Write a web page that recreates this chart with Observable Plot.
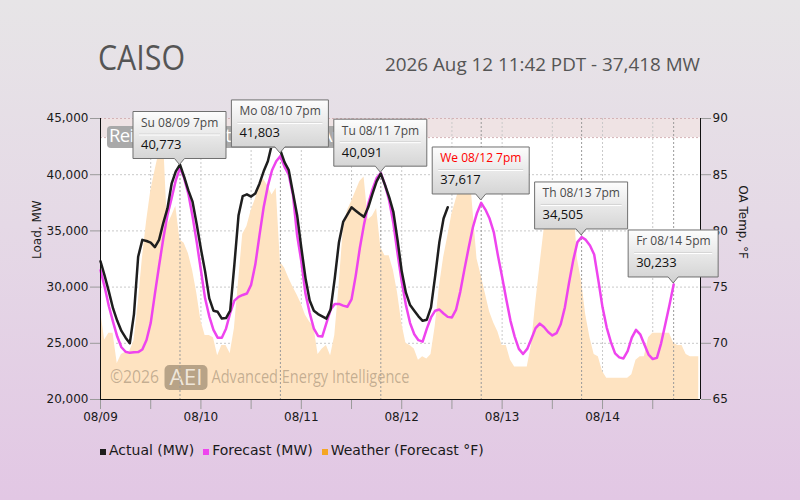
<!DOCTYPE html>
<html>
<head>
<meta charset="utf-8">
<script src="https://cdn.jsdelivr.net/npm/d3@7"></script>
<script src="https://cdn.jsdelivr.net/npm/@observablehq/plot@0.6"></script>
<style>
html,body{margin:0;padding:0;}
body{width:800px;height:500px;overflow:hidden;position:relative;
  background:linear-gradient(to bottom,#e7e5e7 0%,#e5d9e6 45%,#e2c7e4 100%);
  font-family:"DejaVu Sans",sans-serif;}
#header{position:absolute;left:0;top:0;}
#chart{position:absolute;left:0;top:90px;}
#legend{position:absolute;left:100px;top:442px;display:flex;align-items:baseline;font-size:14px;color:#1a1a1a;white-space:nowrap;}
.item{display:flex;align-items:baseline;margin-right:9px;}
.sw{display:inline-block;width:6px;height:6px;margin-right:3px;}
</style>
</head>
<body>
<svg id="header" width="800" height="90">
  <text x="98" y="70" font-family="Open Sans" font-size="34" fill="#555" textLength="87" lengthAdjust="spacingAndGlyphs">CAISO</text>
  <text x="385" y="71" font-family="Open Sans" font-size="19" fill="#555" textLength="315" lengthAdjust="spacingAndGlyphs">2026 Aug 12 11:42 PDT - 37,418 MW</text>
</svg>
<div id="chart"></div>
<div id="legend">
  <div class="item"><span class="sw" style="background:#1e1e1e"></span>Actual (MW)</div>
  <div class="item"><span class="sw" style="background:#ee44ee"></span>Forecast (MW)</div>
  <div class="item"><span class="sw" style="background:#f5a623"></span>Weather (Forecast °F)</div>
</div>
<script>
// ---------- data (hourly, starting 2026-08-09 00:00) ----------
const startTime = Date.UTC(2026, 7, 9, 0, 0);
const endTime = Date.UTC(2026, 7, 14, 23, 25);

const actualMW = [
  32300,31000,29600,28100,27000,26100,25500,25000,27600,32700,
  34200,34100,33950,33550,34200,35700,37000,39200,40300,40900,
  39800,38600,37600,35600,33400,31400,29000,27900,27800,27200,
  27250,27900,32000,36400,38100,38250,38050,38330,39200,40300,
  41200,42750,42700,42150,41100,40400,38400,36400,33500,30800,
  28800,27900,27600,27400,27200,28000,30800,34000,35800,36450,
  37100,36800,36500,36250,37100,38300,39400,40100,39100,38000,
  36700,34200,31400,29500,28400,27900,27400,27000,27100,28200,
  31000,34000,36100,37100
];

const forecastMW = [
  31500,30000,28300,26900,25600,24650,24250,24150,24200,24220,
  24450,25300,26800,29400,31900,34300,36400,37900,39500,40600,
  39700,38300,36300,34000,31500,29000,27400,26200,25500,25500,
  26300,27700,28800,29130,29300,29430,30200,32000,34600,37100,
  39000,40400,41200,41650,40700,40000,38200,34600,32300,29400,
  27700,26300,25650,25600,26800,28000,28500,28500,28350,28250,
  28900,31000,33500,35600,37400,38700,39700,40150,39100,37700,
  35700,33000,30500,28400,26800,25800,25280,25150,26300,27300,
  27900,28000,27650,27350,27300,28000,29600,31600,33500,35300,
  36600,37500,36900,36100,34900,32800,30900,28900,27000,25600,
  24500,24050,24500,25400,26350,26750,26450,26000,25700,25900,
  26700,28200,30400,32400,34000,34450,34200,33700,32900,30600,
  28200,26400,25100,24100,23750,23650,24300,25500,26200,25800,
  24900,24000,23600,23700,25000,26700,28400,30233
];

const weatherF = [
  72.9,70.3,70.9,70.9,68.2,69.0,69.2,69.3,70.2,73.5,
  77.5,80.8,83.5,85.3,87.0,88.6,80.5,81.3,82.2,79.2,
  78.9,78.0,76.5,74.5,72.0,70.7,70.7,70.5,68.9,69.8,
  69.8,69.1,71.3,75.5,79.7,80.4,81.8,82.8,84.2,84.6,
  84.0,83.2,83.8,77.2,76.7,75.8,75.0,74.3,73.5,72.5,
  71.9,71.5,69.0,69.5,69.8,68.9,70.7,75.0,80.0,81.8,
  82.6,83.5,84.4,84.8,81.0,81.3,82.0,78.5,77.8,77.8,
  76.5,74.5,71.8,70.0,69.8,69.5,68.5,68.8,68.6,69.0,
  71.5,75.0,77.6,79.5,81.5,82.8,84.0,85.5,86.5,82.0,
  77.5,76.0,74.4,72.8,71.8,71.0,69.8,69.8,68.5,67.9,
  67.9,67.9,67.9,69.8,73.5,76.8,80.0,83.0,83.5,83.5,
  83.5,83.5,83.5,83.0,77.5,75.5,72.5,70.5,69.0,68.8,
  67.5,66.9,66.9,66.9,66.9,66.9,66.9,67.2,68.5,68.8,
  68.8,70.5,70.9,70.9,70.9,70.9,70.9,70.0,69.8,69.8,
  69.0,68.8,68.8,68.8
];

const dayLabels = ["08/09","08/10","08/11","08/12","08/13","08/14"];
const loadTicks = [20000,25000,30000,35000,40000,45000];
const tempTicks = [65,70,75,80,85,90];
const reserveMW = 43300;

const tipLabels = ["Su 08/09 7pm","Mo 08/10 7pm","Tu 08/11 7pm","We 08/12 7pm","Th 08/13 7pm","Fr 08/14 5pm"];
const tipHours  = [19, 43, 67, 91, 115, 137];
const tipValues = [40773, 41803, 40091, 37617, 34505, 30233];
const tipCurrent = 3;

const bannerText = "Reinforced Outlook: Heat, Aug";

// ---------- derived tables ----------
const H = 3600 * 1000;
const hourDate = h => new Date(startTime + h * H);
const loadMin = 20000, loadMax = 45000, tempMin = 65, tempMax = 90;
const toLoad = f => loadMin + (f - tempMin) * (loadMax - loadMin) / (tempMax - tempMin);
const fromLoad = v => tempMin + (v - loadMin) * (tempMax - tempMin) / (loadMax - loadMin);

const actualRows = actualMW.map((v, i) => ({time: hourDate(i), mw: v}));
const forecastRows = forecastMW.map((v, i) => ({time: hourDate(i), mw: v}));
const weatherRows = weatherF.map((v, i) => ({time: hourDate(i), load: toLoad(v)}));
const dayTicks = dayLabels.map((d, i) => hourDate(24 * i));
const halfDayTicks = d3.range(0, dayLabels.length * 2).map(i => hourDate(12 * i));
const tips = tipLabels.map((l, i) => ({label: l, time: hourDate(tipHours[i]), value: tipValues[i], text: d3.format(",")(tipValues[i]), current: i === tipCurrent}));
const gridLoads = loadTicks.filter(v => v > loadMin && v < loadMax);

// ---------- custom marks ----------
function watermark(index, scales, values, dim) {
  const g = d3.create("svg:g").attr("text-anchor", "start");
  const left = dim.marginLeft, bottom = dim.height - dim.marginBottom;
  const c = "rgba(100,85,65,0.38)";
  g.append("text").attr("x", left + 10).attr("y", bottom - 16).attr("font-family", "Open Sans")
    .attr("font-size", 18).attr("fill", c).attr("textLength", 49).attr("lengthAdjust", "spacingAndGlyphs").text("©2026");
  g.append("rect").attr("x", left + 64.5).attr("y", bottom - 34).attr("width", 43).attr("height", 25).attr("rx", 5)
    .attr("fill", "rgba(100,85,65,0.45)");
  g.append("text").attr("x", left + 69.5).attr("y", bottom - 14.5).attr("font-family", "Open Sans")
    .attr("font-size", 22).attr("fill", "rgba(255,250,240,0.8)").attr("textLength", 33).attr("lengthAdjust", "spacingAndGlyphs").text("AEI");
  g.append("text").attr("x", left + 111.5).attr("y", bottom - 16).attr("font-family", "Open Sans")
    .attr("font-size", 18).attr("fill", c).attr("textLength", 198).attr("lengthAdjust", "spacingAndGlyphs").text("Advanced Energy Intelligence");
  return g.node();
}

function banner(index, scales, values, dim) {
  const g = d3.create("svg:g").attr("text-anchor", "start");
  const x0 = scales.x(hourDate(0)) + 7, y0 = scales.y(loadMax) + 8;
  g.append("rect").attr("x", x0).attr("y", y0).attr("width", 265).attr("height", 22).attr("rx", 4).attr("fill", "#a9a9a9");
  g.append("text").attr("x", x0 + 2).attr("y", y0 + 16).attr("font-family", "Open Sans").attr("font-size", 18.5)
    .attr("letter-spacing", -0.6).attr("fill", "#fff").text(bannerText);
  return g.node();
}

function tooltips(index, scales) {
  const g = d3.create("svg:g").attr("text-anchor", "start");
  const grad = g.append("defs").append("linearGradient").attr("id", "tipGrad")
    .attr("x1", 0).attr("y1", 0).attr("x2", 0).attr("y2", 1);
  grad.append("stop").attr("offset", "0%").attr("stop-color", "#fdfdfd");
  grad.append("stop").attr("offset", "100%").attr("stop-color", "#d0d0d0");
  const ctx = document.createElement("canvas").getContext("2d");
  tips.forEach(t => {
    const px = scales.x(t.time), py = scales.y(t.value);
    ctx.font = "12px 'Open Sans'"; const w1 = ctx.measureText(t.label).width;
    ctx.font = "13px 'Open Sans'"; const w2 = ctx.measureText(t.text).width;
    const w = Math.round(Math.max(w1, w2) + 16);
    const h = 47, yb = -7, yt = yb - h, x0 = -w / 2, x1 = w / 2;
    const tg = g.append("g").attr("transform", `translate(${px},${py})`);
    tg.append("path").attr("d", `M${x0},${yt}H${x1}V${yb}H5L0,-1L-5,${yb}H${x0}Z`)
      .attr("fill", "url(#tipGrad)").attr("stroke", "#707070").attr("stroke-width", 1);
    tg.append("line").attr("x1", x0 + 6).attr("x2", x1 - 6).attr("y1", yt + 22.5).attr("y2", yt + 22.5).attr("stroke", "#d4d4d4");
    tg.append("line").attr("x1", x0 + 6).attr("x2", x1 - 6).attr("y1", yt + 23.5).attr("y2", yt + 23.5).attr("stroke", "#ffffff");
    tg.append("text").attr("x", x0 + 8).attr("y", yt + 15.5).attr("font-family", "Open Sans").attr("font-size", 12)
      .attr("fill", t.current ? "#ff0000" : "#4a4a4a").text(t.label);
    tg.append("text").attr("x", x0 + 8).attr("y", yt + 37.5).attr("font-family", "Open Sans").attr("font-size", 13)
      .attr("fill", "#111").text(t.text);
  });
  return g.node();
}

// ---------- plot ----------
const dotted = {strokeDasharray: "2,2"};
const chart = Plot.plot({
  width: 800,
  height: 340,
  marginTop: 28,
  marginBottom: 31,
  marginLeft: 100,
  marginRight: 100,
  style: {background: "transparent", fontFamily: "DejaVu Sans", fontSize: "12px", overflow: "visible", color: "#222"},
  x: {type: "utc", domain: [new Date(startTime), new Date(endTime)]},
  y: {domain: [loadMin, loadMax]},
  marks: [
    Plot.frame({fill: "white", stroke: "none"}),
    Plot.rect([{x1: new Date(startTime), x2: new Date(endTime), y1: reserveMW, y2: loadMax}],
      {x1: "x1", x2: "x2", y1: "y1", y2: "y2", fill: "#efe3e4"}),
    Plot.ruleY(gridLoads, {stroke: "#c9c9c9", ...dotted}),
    Plot.ruleX(halfDayTicks, {stroke: "#c9c9c9", ...dotted}),
    Plot.ruleY([reserveMW, loadMax], {stroke: "#d4b3b7", ...dotted}),
    Plot.areaY(weatherRows, {x: "time", y1: loadMin, y2: "load", fill: "#fee3c1", curve: "linear"}),
    watermark,
    Plot.ruleX(tips.map(t => t.time), {stroke: "#9a9a9a", ...dotted}),
    Plot.lineY(forecastRows, {x: "time", y: "mw", stroke: "#ee44ee", strokeWidth: 2.5, strokeLinejoin: "round"}),
    Plot.lineY(actualRows, {x: "time", y: "mw", stroke: "#1e1e1e", strokeWidth: 2.5, strokeLinejoin: "round"}),
    Plot.axisY(loadTicks, {anchor: "left", tickSize: 10, tickPadding: 2, tickFormat: d3.format(","), label: null,
      stroke: "#9a9a9a", fill: "#1a1a1a", fontSize: 12}),
    Plot.axisY(tempTicks.map(toLoad), {anchor: "right", tickSize: 10, tickPadding: 2,
      tickFormat: d => String(Math.round(fromLoad(d))), label: null, stroke: "#9a9a9a", fill: "#1a1a1a", fontSize: 12}),
    Plot.axisX(halfDayTicks, {anchor: "bottom", tickSize: 10, tickPadding: 3, label: null,
      tickFormat: d => { const i = dayTicks.findIndex(t => +t === +d); return i >= 0 ? dayLabels[i] : ""; },
      stroke: "#9a9a9a", fill: "#1a1a1a", fontSize: 12}),
    Plot.ruleX([new Date(startTime), new Date(endTime)], {stroke: "#111"}),
    Plot.ruleY([loadMin], {stroke: "#111"}),
    Plot.text(["Load, MW"], {frameAnchor: "left", dx: -63, rotate: -90, fontSize: 12, fill: "#1a1a1a"}),
    Plot.text(["OA Temp, °F"], {frameAnchor: "right", dx: 42, rotate: 90, fontSize: 12, fill: "#1a1a1a"}),
    banner,
    tooltips
  ]
});
document.getElementById("chart").appendChild(chart);
</script>
</body>
</html>
